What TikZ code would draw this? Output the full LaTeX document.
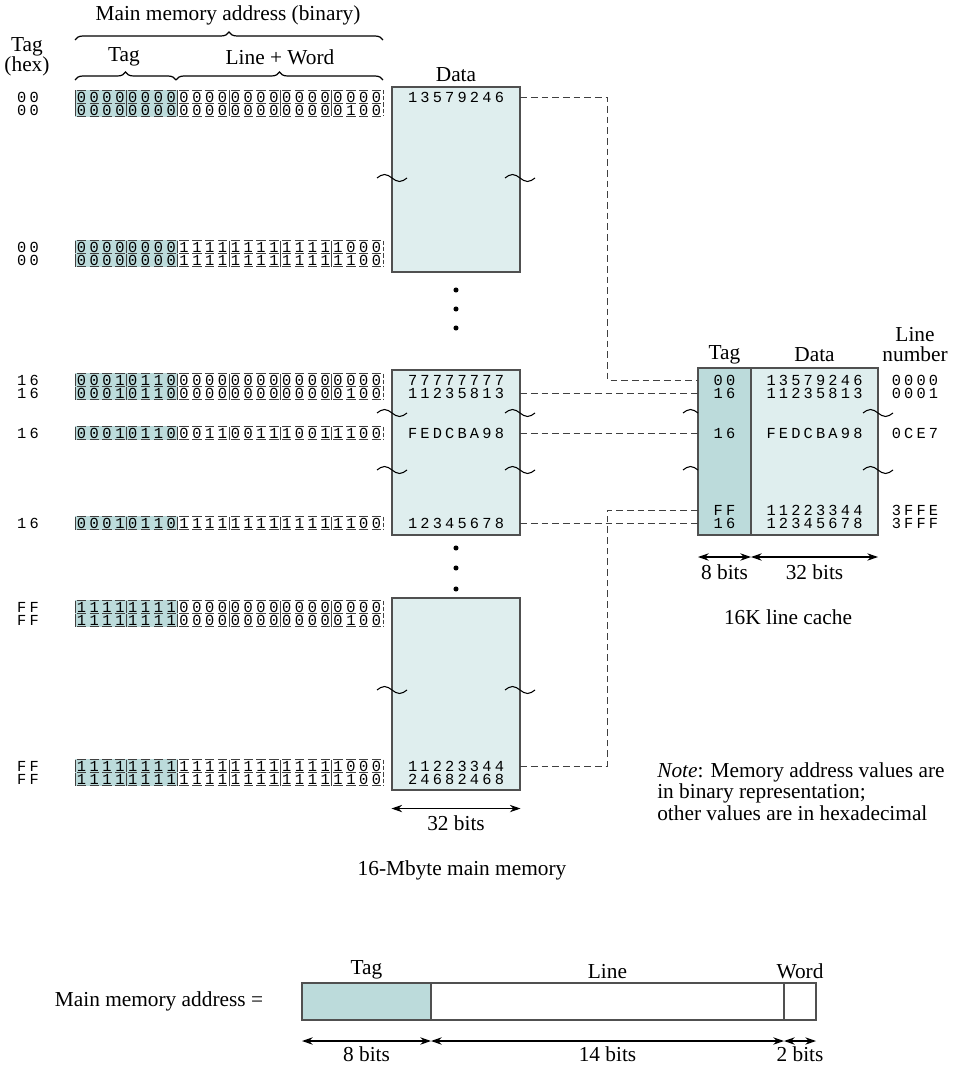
\documentclass[tikz,border=0pt]{standalone}
\usepackage{fontspec}
\setmainfont{Liberation Serif}
\newfontfamily\monofont{Liberation Mono}
\usetikzlibrary{arrows.meta,positioning,decorations.pathreplacing}

\definecolor{tagteal}{HTML}{BCDBDB}
\definecolor{memteal}{HTML}{DFEEEE}
\definecolor{edgegray}{HTML}{505050}

% every character of a value in a cell of fixed width
\newlength\cellw
\def\spacedloop#1{\ifx\relax#1\else\makebox[\cellw]{#1}\expandafter\spacedloop\fi}
\newcommand\spaced[1]{\expandafter\spacedloop#1\relax}
\newcommand\bits[1]{\setlength\cellw{9.625pt}\spaced{#1}}
\newcommand\hexs[1]{\setlength\cellw{9.3pt}\spaced{#1}}

\begin{document}
\begin{tikzpicture}[x=0.75pt, y=-0.75pt,
  lbl/.style={font=\fontsize{16}{15}\selectfont, align=center, inner sep=0pt},
  mono/.style={font=\fontsize{11.5}{12}\monofont, inner sep=0pt},
  memval/.style={mono, minimum width=96pt},
  ctagval/.style={mono, minimum width=39.75pt},
  membox/.style={draw=edgegray, fill=memteal, line width=0.8pt, minimum width=96pt,
                 inner sep=0pt},
  cachebox/.style={draw=edgegray, line width=0.8pt, inner sep=0pt, outer sep=0pt,
                   minimum height=125.25pt},
  field/.style={draw=edgegray, line width=0.8pt, minimum height=27.75pt,
                inner sep=0pt, outer sep=0pt},
  link/.style={dash pattern=on 5pt off 3pt, line width=0.6pt, draw=black!75},
  wave/.style={line width=0.8pt},
  dim/.style={{Stealth[length=8pt,width=5.5pt]}-{Stealth[length=8pt,width=5.5pt]},
              line width=0.9pt},
  curly/.style={decorate, decoration={brace, amplitude=6pt}, line width=0.9pt},
  celldash/.style={dash pattern=on 7pt off 2.625pt, dash phase=8.3125pt,
                   line width=0.5pt, draw=black!75},
  nibble/.style={line width=0.5pt, draw=black!75},
  tagshade/.style={fill=tagteal}]

  \useasboundingbox (0,0) rectangle (958,1073);

  % address headings
  \node[lbl] (title)  at (228,15) {Main memory address (binary)};
  \draw[curly] (75,40) -- (383,40);
  \node[lbl] (taghex) at (27,57)  {Tag\\(hex)};
  \node[lbl] (tagbin) at (124,57) {Tag};
  \node[lbl] (linew)  at (280,57) {Line + Word};
  \draw[curly] (75,80) -- (176,80);
  \draw[curly] (176,80) -- (383,80);

  % main memory address rows
  \foreach \y/\hx/\bv [count=\i] in {
      97/00/000000000000000000000000,  110/00/000000000000000000000100,
      247/00/000000001111111111111000, 260/00/000000001111111111111100,
      380/16/000101100000000000000000, 393/16/000101100000000000000100,
      433/16/000101100011001110011100, 523/16/000101101111111111111100,
      607/FF/111111110000000000000000, 620/FF/111111110000000000000100,
      766/FF/111111111111111111111000, 779/FF/111111111111111111111100}{
    \fill[tagshade] (75,\y-6.6) rectangle (177.7,\y+6.6);
    \draw[celldash] (75,\y-6.5) -- (383,\y-6.5) (75,\y+6.5) -- (383,\y+6.5);
    \foreach \k in {0,...,5} \draw[nibble] (75+\k*51.33,\y-6.5) -- ++(0,13);
    \draw[nibble, dash pattern=on 3pt off 1.5pt] (383,\y-6.5) -- ++(0,13);
    \node[mono] (hex\i) at (28,\y)  {\hexs{\hx}};
    \node[mono] (bin\i) at (229,\y) {\bits{\bv}};
  }

  % main memory
  \node[lbl] (datahead) at (456,75) {Data};
  \node[membox, minimum height=138.75pt] (mem1) at (456,179.5) {};
  \node[membox, minimum height=123.75pt] (mem2) at (456,452.5) {};
  \node[membox, minimum height=144pt]    (mem3) at (456,694) {};
  \foreach \y in {290,309,328,548,568,589} \fill (456,\y) circle (1.9pt);

  \node[memval] (m1) at (456,97)  {\hexs{13579246}};
  \node[memval] (m2) at (456,380) {\hexs{77777777}};
  \node[memval] (m3) at (456,393) {\hexs{11235813}};
  \node[memval] (m4) at (456,433) {\hexs{FEDCBA98}};
  \node[memval] (m5) at (456,523) {\hexs{12345678}};
  \node[memval] (m6) at (456,766) {\hexs{11223344}};
  \node[memval] (m7) at (456,779) {\hexs{24682468}};

  \draw[dim] ([yshift=-13.5pt]mem3.south west) -- ([yshift=-13.5pt]mem3.south east)
    node[lbl, midway, below=5pt] (membits) {32 bits};
  \node[lbl] (memname) at (462,870) {16-Mbyte main memory};

  % cache
  \node[lbl] (ctaghead)  at (724.5,355) {Tag};
  \node[lbl] (cdatahead) at (814.5,355) {Data};
  \node[lbl] (clinehead) at (915,345)   {Line\\number};
  \node[cachebox, fill=tagteal, minimum width=39.75pt] (ctag) at (724.5,451.5) {};
  \node[cachebox, fill=memteal, minimum width=95.25pt, right=0pt of ctag] (cdata) {};

  \node[ctagval] (ct1) at (724.5,380) {\hexs{00}};
  \node[ctagval] (ct2) at (724.5,393) {\hexs{16}};
  \node[ctagval] (ct3) at (724.5,433) {\hexs{16}};
  \node[ctagval] (ct4) at (724.5,510) {\hexs{FF}};
  \node[ctagval] (ct5) at (724.5,523) {\hexs{16}};
  \node[mono] (cd1) at (814.5,380) {\hexs{13579246}};
  \node[mono] (cd2) at (814.5,393) {\hexs{11235813}};
  \node[mono] (cd3) at (814.5,433) {\hexs{FEDCBA98}};
  \node[mono] (cd4) at (814.5,510) {\hexs{11223344}};
  \node[mono] (cd5) at (814.5,523) {\hexs{12345678}};
  \node[mono] (cl1) at (915,380) {\hexs{0000}};
  \node[mono] (cl2) at (915,393) {\hexs{0001}};
  \node[mono] (cl3) at (915,433) {\hexs{0CE7}};
  \node[mono] (cl4) at (915,510) {\hexs{3FFE}};
  \node[mono] (cl5) at (915,523) {\hexs{3FFF}};

  \draw[dim] ([yshift=-16.5pt]ctag.south west) -- ([yshift=-16.5pt]ctag.south east)
    node[lbl, midway, below=5pt] (ctagbits) {8 bits};
  \draw[dim] ([yshift=-16.5pt]cdata.south west) -- ([yshift=-16.5pt]cdata.south east)
    node[lbl, midway, below=5pt] (cdatabits) {32 bits};
  \node[lbl] (cachename) at (788,617) {16K line cache};

  % breaks
  \foreach \x/\y in {392/178, 520/178, 392/413, 520/413, 392/470, 520/470,
                     392/690, 520/690, 878/413, 878/470}
    \draw[wave] (\x-15,\y) sin (\x-7.5,\y-3.5) cos (\x,\y) sin (\x+7.5,\y+3.5) cos (\x+15,\y);
  \foreach \y in {413,470}
    \draw[wave] (683,\y) sin (690.5,\y-3.5) cos (698,\y);

  % mapping
  \draw[link] (m1.east) -- ++(87,0) |- (ct1.west);
  \draw[link] (m3.east) -- (ct2.west);
  \draw[link] (m4.east) -- (ct3.west);
  \draw[link] (m5.east) -- (ct5.west);
  \draw[link] (m6.east) -- ++(87,0) |- (ct4.west);

  \node[lbl, anchor=north west, align=left, font=\fontsize{16}{16.1}\selectfont]
    (note) at (657,762)
    {\textit{Note}: Memory address values are\\in binary representation;\\
     other values are in hexadecimal};

  % address format
  \node[field, fill=tagteal, minimum width=96.75pt, anchor=west] (ftag) at (302,1001.5) {};
  \node[field, fill=white, minimum width=264.75pt, right=0pt of ftag] (fline) {};
  \node[field, fill=white, minimum width=24pt, right=0pt of fline] (fword) {};
  \node[lbl, left=29pt of ftag] (addr) {Main memory address =};
  \node[lbl, above=3pt of ftag]  (ftaglbl)  {Tag};
  \node[lbl, above=3pt of fline] (flinelbl) {Line};
  \node[lbl, above=3pt of fword] (fwordlbl) {Word};
  \draw[dim] ([yshift=-15.75pt]ftag.south west) -- ([yshift=-15.75pt]ftag.south east)
    node[lbl, midway, below=4pt] (ftagbits) {8 bits};
  \draw[dim] ([yshift=-15.75pt]fline.south west) -- ([yshift=-15.75pt]fline.south east)
    node[lbl, midway, below=4pt] (flinebits) {14 bits};
  \draw[dim] ([yshift=-15.75pt]fword.south west) -- ([yshift=-15.75pt]fword.south east)
    node[lbl, midway, below=4pt] (fwordbits) {2 bits};

\end{tikzpicture}
\end{document}
